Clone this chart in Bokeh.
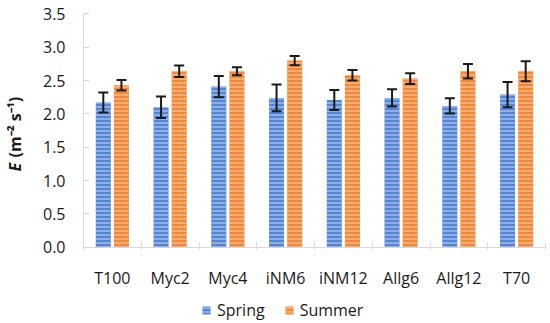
import numpy as np
from bokeh.plotting import figure
from bokeh.models import (ColumnDataSource, Whisker, TeeHead, FixedTicker, Legend, LegendItem,
                          Label, Range1d)
from bokeh.embed import file_html
from bokeh.resources import INLINE

categories = ["T100", "Myc2", "Myc4", "iNM6", "iNM12", "Allg6", "Allg12", "T70"]
spring = [2.17, 2.10, 2.41, 2.24, 2.21, 2.24, 2.12, 2.29]
spring_err = [0.15, 0.16, 0.16, 0.20, 0.15, 0.13, 0.115, 0.19]
summer = [2.43, 2.64, 2.64, 2.80, 2.58, 2.53, 2.64, 2.64]
summer_err = [0.08, 0.085, 0.06, 0.07, 0.08, 0.08, 0.11, 0.15]
y_ticks = [0.0, 0.5, 1.0, 1.5, 2.0, 2.5, 3.0, 3.5]
y_max = 3.5

FONT = "Open Sans"
W, H = 547, 323
AX_L, AX_R, AX_T, AX_B = 83, 545, 13.4, 246.7   # pixel box of the axes
n = len(categories)
xs = (AX_R - AX_L) / n
ys = (AX_B - AX_T) / y_max

idx = np.arange(n) + 0.5
off = 0.157
bw = 0.26

p = figure(width=W, height=H, output_backend="svg", toolbar_location=None,
           x_range=Range1d(-AX_L / xs, n + (W - AX_R) / xs),
           y_range=Range1d(-(H - AX_B) / ys, y_max + AX_T / ys),
           min_border=0)
p.outline_line_color = None
p.xgrid.grid_line_color = None
p.ygrid.grid_line_color = None
p.background_fill_color = "white"

src_sp = ColumnDataSource(dict(x=idx - off, top=spring,
                               lo=np.array(spring) - np.array(spring_err),
                               hi=np.array(spring) + np.array(spring_err)))
src_su = ColumnDataSource(dict(x=idx + off, top=summer,
                               lo=np.array(summer) - np.array(summer_err),
                               hi=np.array(summer) + np.array(summer_err)))

r_sp = p.vbar(x="x", top="top", width=bw, bottom=0, source=src_sp,
              fill_color="#5585d6", line_color=None,
              hatch_pattern="horizontal_line", hatch_color="#b3cbef", hatch_scale=4, hatch_weight=1.2)
r_su = p.vbar(x="x", top="top", width=bw, bottom=0, source=src_su,
              fill_color="#f2883a", line_color=None,
              hatch_pattern="horizontal_line", hatch_color="#f9c49a", hatch_scale=4, hatch_weight=1.2)

for src in (src_sp, src_su):
    w = Whisker(base="x", lower="lo", upper="hi", source=src, level="overlay",
                line_color="#1a1a1a", line_width=2,
                upper_head=TeeHead(size=10, line_color="#1a1a1a", line_width=2),
                lower_head=TeeHead(size=10, line_color="#1a1a1a", line_width=2))
    p.add_layout(w)

# y axis
ya = p.yaxis[0]
ya.fixed_location = 0
ya.bounds = (0, y_max)
ya.ticker = FixedTicker(ticks=y_ticks)
ya.major_label_overrides = {t: f"{t:.1f}" for t in y_ticks}
ya.axis_line_color = "#d9d9d9"
ya.major_tick_line_color = "#d9d9d9"
ya.major_tick_in = 6
ya.major_tick_out = 0
ya.minor_tick_line_color = None
ya.major_label_standoff = 18
ya.major_label_text_font = FONT
ya.major_label_text_font_size = "16px"
ya.major_label_text_color = "#1a1a1a"

# x axis
xa = p.xaxis[0]
xa.fixed_location = 0
xa.bounds = (0, n)
xa.ticker = FixedTicker(ticks=list(idx), minor_ticks=list(range(n + 1)))
xa.major_label_overrides = {float(v): c for v, c in zip(idx, categories)}
xa.axis_line_color = "#d9d9d9"
xa.major_tick_line_color = None
xa.minor_tick_line_color = "#d9d9d9"
xa.minor_tick_in = 5
xa.minor_tick_out = 2
xa.major_label_standoff = 14
xa.major_label_text_font = FONT
xa.major_label_text_font_size = "16px"
xa.major_label_text_color = "#1a1a1a"

# y axis title: italic E + unit
lab_x = (14 - AX_L) / xs
p.add_layout(Label(x=lab_x, y=(AX_B - 171) / ys, text="E", angle=np.pi / 2,
                   text_font=FONT, text_font_size="16px", text_font_style="bold italic",
                   text_align="left", text_baseline="middle", text_color="#1a1a1a"))
p.add_layout(Label(x=lab_x, y=(AX_B - 157) / ys, text="(m\u207b\u00b2 s\u207b\u00b9)", angle=np.pi / 2,
                   text_font=FONT, text_font_size="16px", text_font_style="bold",
                   text_align="left", text_baseline="middle", text_color="#1a1a1a"))

legend = Legend(items=[LegendItem(label="Spring", renderers=[r_sp]),
                       LegendItem(label="Summer", renderers=[r_su])],
                orientation="horizontal", location=(201, 2),
                glyph_width=10, glyph_height=10, label_standoff=6, spacing=19,
                padding=0, margin=0, border_line_color=None, background_fill_alpha=0,
                label_text_font=FONT, label_text_font_size="16px", label_text_color="#1a1a1a")
p.add_layout(legend, "center")

open("out.html", "w").write(file_html(p, INLINE))
